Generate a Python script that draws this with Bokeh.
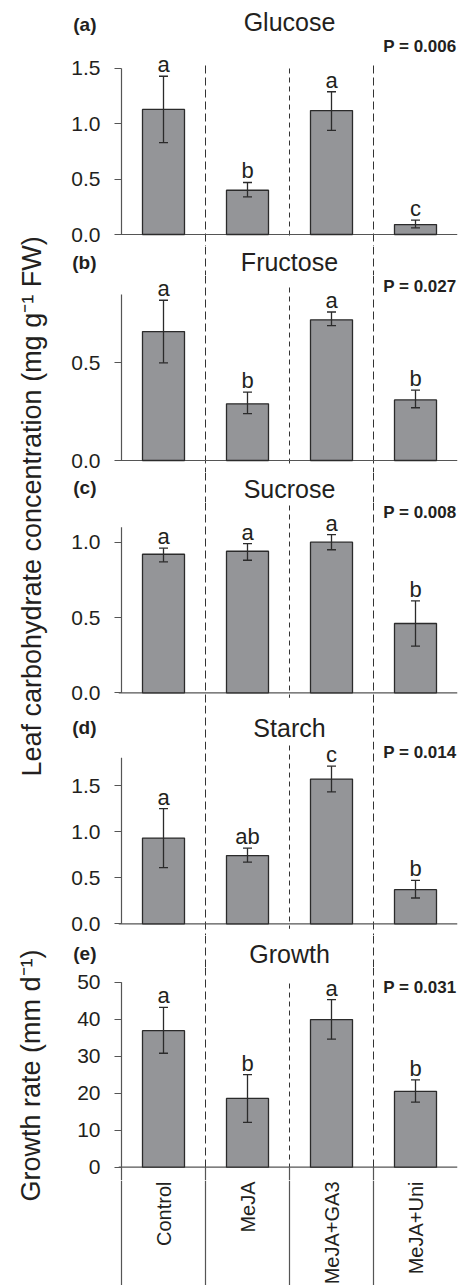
import math
from bokeh.plotting import figure
from bokeh.models import (ColumnDataSource, Range1d, FixedTicker, NumeralTickFormatter,
                          Whisker, TeeHead)
from bokeh.layouts import row, column
from bokeh.embed import file_html
from bokeh.resources import INLINE
from bokeh.core.properties import value

# ---------------- data ----------------
categories = ["Control", "MeJA", "MeJA+GA3", "MeJA+Uni"]

glucose_mean = [1.13, 0.40, 1.12, 0.09]
glucose_upper = [1.43, 0.47, 1.29, 0.13]
glucose_lower = [0.83, 0.34, 0.94, 0.06]
glucose_letters = ["a", "b", "a", "c"]

fructose_mean = [0.66, 0.29, 0.72, 0.31]
fructose_upper = [0.82, 0.35, 0.76, 0.36]
fructose_lower = [0.50, 0.24, 0.69, 0.27]
fructose_letters = ["a", "b", "a", "b"]

sucrose_mean = [0.92, 0.94, 1.00, 0.46]
sucrose_upper = [0.96, 0.99, 1.05, 0.61]
sucrose_lower = [0.87, 0.88, 0.95, 0.31]
sucrose_letters = ["a", "a", "a", "b"]

starch_mean = [0.93, 0.74, 1.57, 0.37]
starch_upper = [1.25, 0.82, 1.71, 0.47]
starch_lower = [0.61, 0.67, 1.43, 0.28]
starch_letters = ["a", "ab", "c", "b"]

growth_mean = [36.9, 18.6, 39.9, 20.5]
growth_upper = [43.2, 25.0, 45.3, 23.6]
growth_lower = [30.8, 12.1, 34.6, 17.6]
growth_letters = ["a", "b", "a", "b"]

panel_tags = ["(a)", "(b)", "(c)", "(d)", "(e)"]
panel_titles = ["Glucose", "Fructose", "Sucrose", "Starch", "Growth"]
p_values = ["P = 0.006", "P = 0.027", "P = 0.008", "P = 0.014", "P = 0.031"]
y_ticks = [[0, 0.5, 1.0, 1.5], [0, 0.5], [0, 0.5, 1.0], [0, 0.5, 1.0, 1.5],
           [0, 10, 20, 30, 40, 50]]
y_formats = ["0.0", "0.0", "0.0", "0.0", "0"]
carb_label = "Leaf carbohydrate concentration (mg g\u207b\u00b9 FW)"
growth_label = "Growth rate (mm d\u207b\u00b9)"

series = [
    (glucose_mean, glucose_upper, glucose_lower, glucose_letters),
    (fructose_mean, fructose_upper, fructose_lower, fructose_letters),
    (sucrose_mean, sucrose_upper, sucrose_lower, sucrose_letters),
    (starch_mean, starch_upper, starch_lower, starch_letters),
    (growth_mean, growth_upper, growth_lower, growth_letters),
]

# ---------------- layout (page pixel positions) ----------------
FONT = "Liberation Sans"
INK = "#231f20"
BAR_FILL = "#949598"
BAR_LINE = "#2b2b2b"
AXIS = "#555555"
DASH = "#333333"

PAGE_H = 1285
LEFT_W = 50
W = 408
LEFT_BORDER = 68            # frames start at page x 118
PX_PER_CAT = 84.0

headers = [(0, 36), (246, 275), (472, 502), (705, 741), (935, 967)]
bodies = [(36, 246), (275, 472), (502, 705), (741, 935), (967, 1180)]
zeros = [234.0, 460.0, 692.3, 923.3, 1166.7]
ppus = [110.67, 195.4, 150.6, 92.2, 3.7]
axis_top = [1.5, 0.85, 1.1, 1.8, 50]
mid_start_px = [68, 287, 505, 745, 983]
outer_start_px = [65, None, None, None, None]
title_px = [21, 261, 488, 727, 953]
pval_px = [46, 286, 512, 752, 987]
tag_px = [24, 262, 487, 727, 953]
TAG_RIGHT_PX = 96
CAT_TOP = 1180

BX0 = -0.5 - 3 / PX_PER_CAT
BX1 = 3.5

xs = list(range(len(categories)))
seps = [i + 0.5 for i in xs[:-1]]
outer_seps = [seps[0], seps[-1]]
mid_seps = [seps[1]]
mid_x = sum(xs) / len(xs)


def bare(p):
    p.outline_line_color = None
    p.grid.visible = False
    p.background_fill_color = None
    return p


def style_axis(ax, ticks, fmt):
    ax.ticker = FixedTicker(ticks=ticks)
    ax.formatter = NumeralTickFormatter(format=fmt)
    ax.axis_line_color = None
    ax.major_tick_line_color = AXIS
    ax.major_tick_line_width = 1.2
    ax.major_tick_in = 3
    ax.major_tick_out = 4
    ax.minor_tick_line_color = None
    ax.major_label_text_font = FONT
    ax.major_label_text_font_size = "21px"
    ax.major_label_text_color = INK
    ax.major_label_standoff = 14


col = []
for i in range(5):
    # ---------- header: tag (as axis label), title, dashed separators ----------
    htop, hbot = headers[i]
    hh = hbot - htop
    h = bare(figure(width=W, height=hh, x_range=Range1d(BX0, BX1),
                    y_range=Range1d(0, hh), output_backend="svg",
                    toolbar_location=None, x_axis_location=None,
                    min_border_left=LEFT_BORDER, min_border_right=1,
                    min_border_top=0, min_border_bottom=0))
    tag_y = int(round(hbot - tag_px[i]))
    ax = h.yaxis[0]
    ax.ticker = FixedTicker(ticks=[tag_y])
    ax.major_label_overrides = {tag_y: panel_tags[i]}
    ax.axis_line_color = None
    ax.major_tick_line_color = None
    ax.minor_tick_line_color = None
    ax.major_tick_in = 0
    ax.major_tick_out = 0
    ax.major_label_standoff = LEFT_W + LEFT_BORDER - TAG_RIGHT_PX
    ax.major_label_text_font = FONT
    ax.major_label_text_font_size = "19px"
    ax.major_label_text_font_style = "bold"
    ax.major_label_text_color = INK
    if i > 0:
        h.segment(x0=outer_seps, y0=[hh] * 2, x1=outer_seps, y1=[0] * 2,
                  line_color=DASH, line_width=1, line_dash="8 4")
    h.text(x=[mid_x], y=[hbot - title_px[i]], text=[panel_titles[i]],
           text_align="center", text_baseline="middle",
           text_font=value(FONT), text_font_size="25px", text_color=INK)
    col.append(h)

    # ---------- body: axis, bars, error bars, letters, P value ----------
    top, bot = bodies[i]
    zero, ppu = zeros[i], ppus[i]
    ystart = -(bot - zero) / ppu
    yend = (zero - top) / ppu
    p = bare(figure(width=W, height=bot - top, x_range=Range1d(BX0, BX1),
                    y_range=Range1d(ystart, yend), output_backend="svg",
                    toolbar_location=None, x_axis_location=None,
                    min_border_left=LEFT_BORDER, min_border_right=1,
                    min_border_top=0, min_border_bottom=0))
    style_axis(p.yaxis[0], y_ticks[i], y_formats[i])

    mean, upper, lower, letters = series[i]
    below = -5 / ppu

    o_start = yend if outer_start_px[i] is None else (zero - outer_start_px[i]) / ppu
    o_end = 0 if i == 4 else ystart
    p.segment(x0=outer_seps, y0=[o_start] * 2, x1=outer_seps, y1=[o_end] * 2,
              line_color=DASH, line_width=1, line_dash="8 4")
    m_start = (zero - mid_start_px[i]) / ppu
    p.segment(x0=mid_seps, y0=[m_start], x1=mid_seps, y1=[0 if i == 4 else below],
              line_color=DASH, line_width=1, line_dash="5 4")
    if i == 4:
        box_x = [-0.5] + seps
        p.segment(x0=box_x, y0=[0] * 4, x1=box_x, y1=[ystart] * 4,
                  line_color=AXIS, line_width=1.2)

    p.segment(x0=[-0.5], y0=[0], x1=[-0.5], y1=[axis_top[i]],
              line_color=AXIS, line_width=1.2)
    p.segment(x0=[BX0], y0=[0], x1=[BX1], y1=[0], line_color=AXIS, line_width=1.2)

    src = ColumnDataSource(dict(x=xs, mean=mean, upper=upper, lower=lower,
                                letter=letters))
    p.vbar(x="x", top="mean", bottom=0, width=0.5, source=src,
           fill_color=BAR_FILL, line_color=BAR_LINE, line_width=1.3)
    w = Whisker(base="x", upper="upper", lower="lower", source=src,
                level="annotation", line_color=BAR_LINE, line_width=1.3)
    w.upper_head = TeeHead(size=9, line_color=BAR_LINE, line_width=1.3)
    w.lower_head = TeeHead(size=9, line_color=BAR_LINE, line_width=1.3)
    p.add_layout(w)
    p.text(x="x", y="upper", text="letter", source=src, text_align="center",
           text_baseline="bottom", y_offset=1,
           text_font=value(FONT), text_font_size="22px", text_color=INK)
    p.text(x=[BX1], y=[(zero - pval_px[i]) / ppu], text=[p_values[i]],
           text_align="right", text_baseline="middle", x_offset=-1,
           text_font=value(FONT), text_font_size="17px",
           text_font_style="bold", text_color=INK)
    col.append(p)

# ---------- category strip ----------
FH = PAGE_H - CAT_TOP
f = bare(figure(width=W, height=FH, x_range=Range1d(BX0, BX1), y_range=Range1d(0, FH),
                output_backend="svg", toolbar_location=None, x_axis_location=None,
                y_axis_location=None, min_border_left=LEFT_BORDER, min_border_right=1,
                min_border_top=0, min_border_bottom=0))
box_x = [-0.5] + seps
f.segment(x0=box_x, y0=[0] * 4, x1=box_x, y1=[FH] * 4,
          line_color=AXIS, line_width=1.2)
f.text(x=xs, y=[FH - 1] * len(xs), text=categories, angle=math.pi / 2,
       text_align="right", text_baseline="middle",
       text_font=value(FONT), text_font_size="20px", text_color=INK)
col.append(f)

# ---------- left strip with y titles ----------
left = bare(figure(width=LEFT_W, height=PAGE_H, x_range=Range1d(0, LEFT_W),
                   y_range=Range1d(0, PAGE_H), output_backend="svg",
                   toolbar_location=None, x_axis_location=None,
                   y_axis_location=None, min_border=0))
left.text(x=[31, 30], y=[PAGE_H - 506, PAGE_H - 1075],
          text=[carb_label, growth_label],
          angle=math.pi / 2, text_align="center", text_baseline="middle",
          text_font=value(FONT), text_font_size="27px", text_color=INK)

layout = row(left, column(*col, spacing=0), spacing=0)
open("out.html", "w").write(file_html(layout, INLINE))
